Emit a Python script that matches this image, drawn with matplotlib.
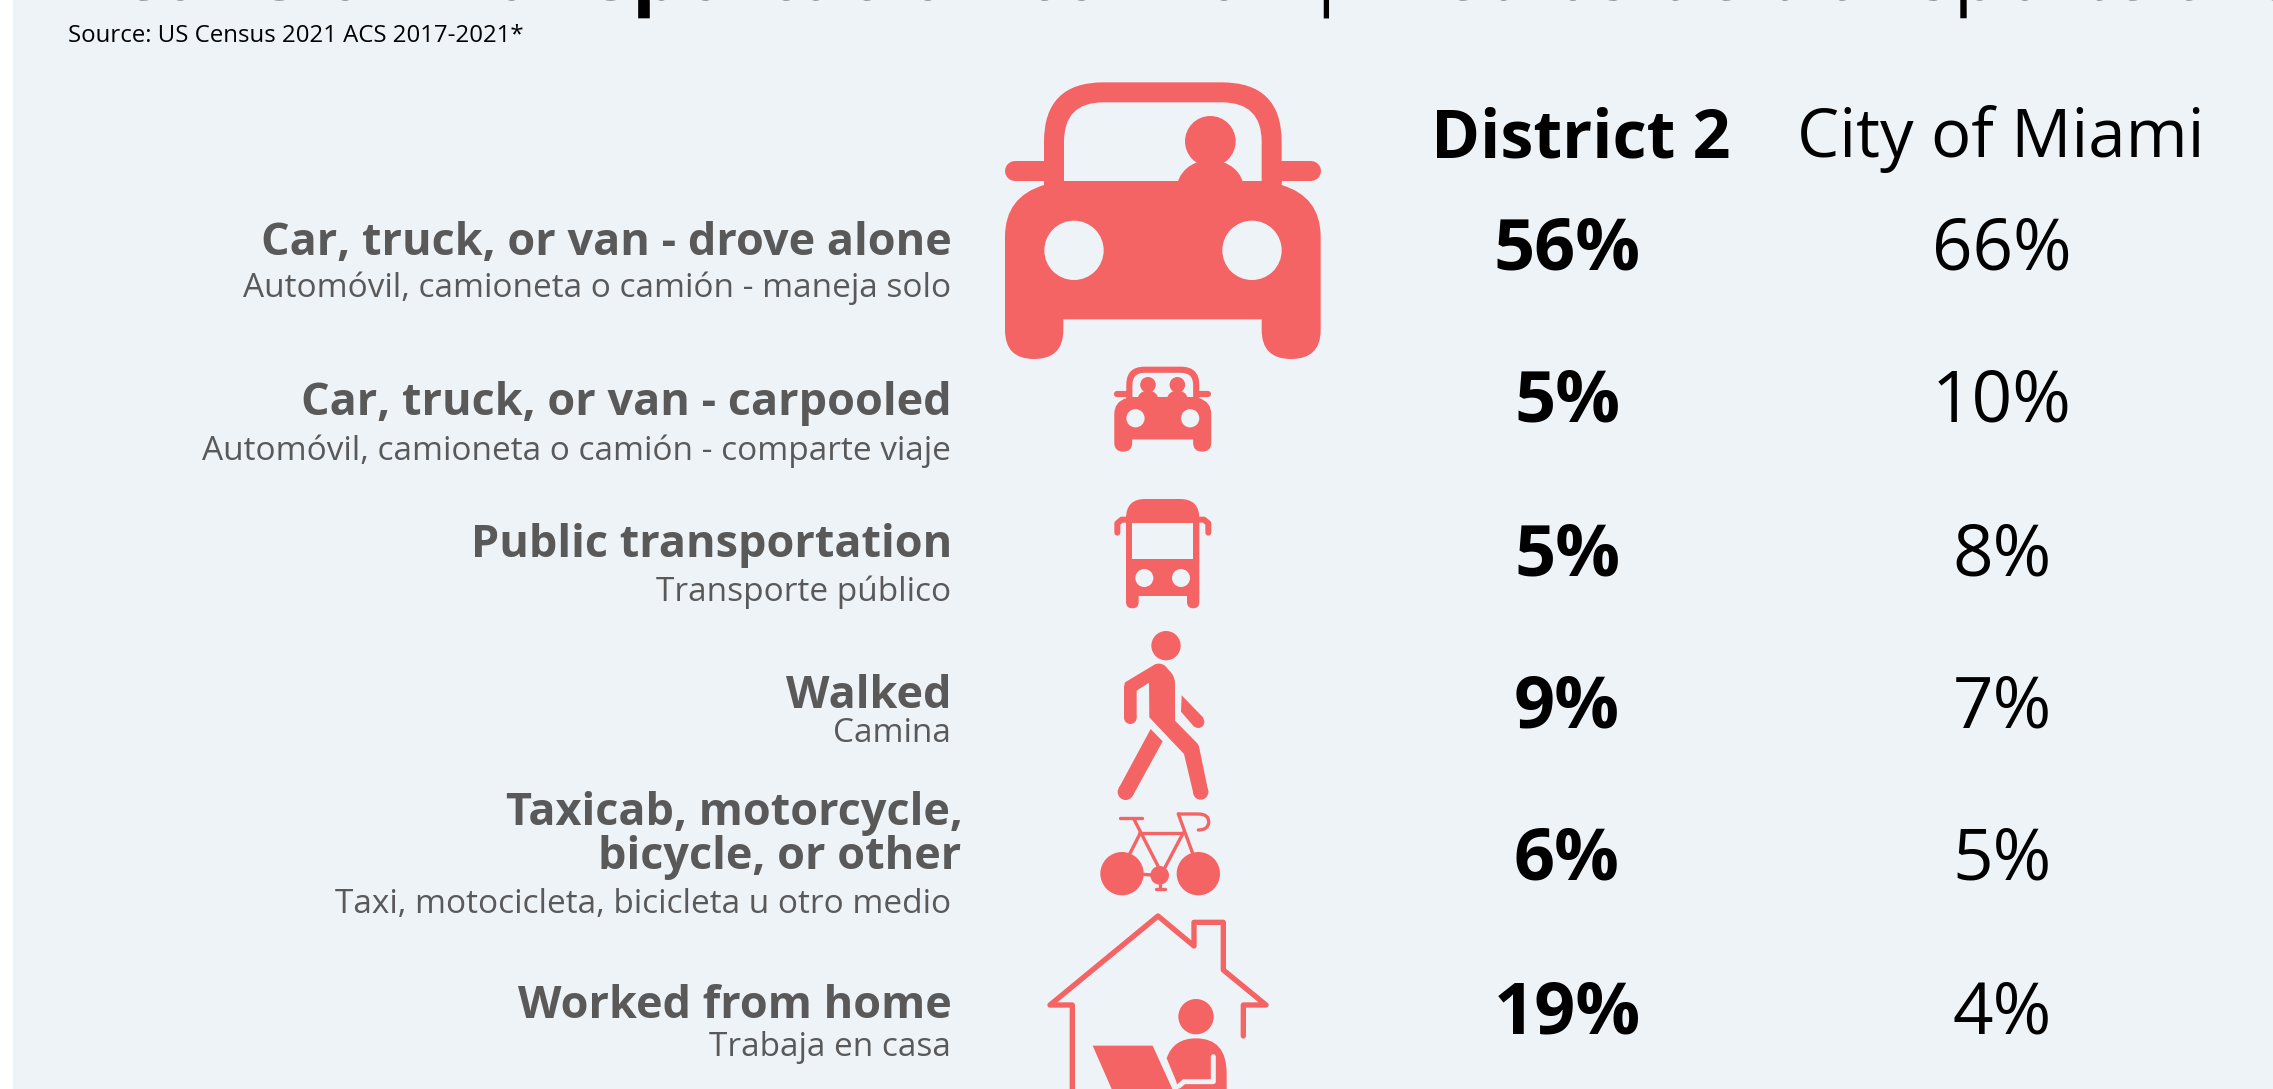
# -*- coding: utf-8 -*-
import matplotlib
matplotlib.use("Agg")
import matplotlib.patheffects as pe
import matplotlib.pyplot as plt
from matplotlib.patches import Circle, Ellipse, PathPatch, Polygon, Rectangle
from matplotlib.path import Path
from matplotlib.transforms import Affine2D

PINK = "#F46464"
PANEL = "#EEF3F8"
GREY = "#595959"

# data
labels_en = ["Car, truck, or van - drove alone", "Car, truck, or van - carpooled",
             "Public transportation", "Walked",
             "Taxicab, motorcycle,\nbicycle, or other", "Worked from home"]
labels_es = ["Automóvil, camioneta o camión - maneja solo",
             "Automóvil, camioneta o camión - comparte viaje",
             "Transporte público", "Camina",
             "Taxi, motocicleta, bicicleta u otro medio", "Trabaja en casa"]
district_2 = [56, 5, 5, 9, 6, 19]
city_of_miami = [66, 10, 8, 7, 5, 4]
column_names = ["District 2", "City of Miami"]
source_note = "Source: US Census 2021 ACS 2017-2021*"
title_en = "Means of Transportation to Work"
title_es = "| Medios de transporte al trabajo"

# layout, in pixels of the image
row_base = [270, 422, 576, 727, 879, 1033]
en_base = [[255], [415], [557], [708], [825, 869], [1018]]
en_right = [[952], [952], [952], [952], [963, 961], [952]]
es_base = [297, 460, 601, 742, 913, 1056]

fig = plt.figure(figsize=(2273 / 100, 1089 / 100), dpi=100, facecolor="white")
ax = fig.add_axes([0, 0, 1, 1])
ax.set_xlim(0, 2273)
ax.set_ylim(1089, 0)
ax.axis("off")
ax.add_patch(Rectangle((13, 0), 2260, 1089, color=PANEL, lw=0))


def px(size):
    return size * 72 / 100


def txt(x, y, s, size, color="black", weight="normal", ha="center"):
    return ax.text(x, y, s, fontsize=px(size), color=color, fontweight=weight, ha=ha,
                   va="baseline", family="Open Sans")


def icon(ox, oy, k):
    return Affine2D().scale(k).translate(ox, oy) + ax.transData


def put(patch, tr):
    patch.set_transform(tr)
    ax.add_patch(patch)


def fill(verts, codes, tr, color=PINK):
    put(PathPatch(Path(verts, codes), fc=color, ec="none", lw=0), tr)


def dot(x, y, r, tr, color=PINK):
    put(Circle((x, y), r, fc=color, ec="none", lw=0), tr)


def stroke(points, w, k, tr, color=PINK):
    put(PathPatch(Path(points), fc="none", ec=color, lw=px(w * k),
                  capstyle="round", joinstyle="round"), tr)


M, L, C3, Z = Path.MOVETO, Path.LINETO, Path.CURVE3, Path.CLOSEPOLY


def car(ox, oy, k, people):
    tr = icon(ox, oy, k)
    # body with wheels
    fill([(192, 363), (192, 375), (75, 410), (75, 530), (75, 810), (75, 897), (162, 897),
          (250, 897), (250, 810), (250, 778), (845, 778), (845, 810), (845, 897), (933, 897),
          (1022, 897), (1022, 810), (1022, 530), (1022, 410), (905, 375), (905, 363), (192, 363)],
         [M, L, C3, C3, L, C3, C3, C3, C3, L, L, L, C3, C3, C3, C3, L, C3, C3, L, Z], tr)
    # roof
    fill([(192, 370), (192, 245), (192, 67), (370, 67), (725, 67), (905, 67), (905, 245), (905, 370),
          (845, 370), (845, 245), (845, 127), (725, 127), (370, 127), (252, 127), (252, 245),
          (252, 370), (192, 370)],
         [M, L, C3, C3, L, C3, C3, L, L, L, C3, C3, L, C3, C3, L, Z], tr)
    # mirrors
    stroke([(105, 333), (200, 333)], 60, k, tr)
    stroke([(895, 333), (992, 333)], 60, k, tr)
    # headlights
    dot(282, 571, 89, tr, PANEL)
    dot(816, 571, 89, tr, PANEL)
    for x in people:
        dot(x, 244, 76, tr)
        put(Ellipse((x, 385), 200, 170, fc=PINK, ec="none", lw=0), tr)


def bus():
    tr = icon(1080, 480, 1 / 3)
    fill([(138, 115), (138, 57), (195, 57), (300, 57), (358, 57), (358, 115), (358, 366), (358, 385),
          (340, 385), (321, 385), (321, 366), (321, 348), (176, 348), (176, 366), (176, 385),
          (157, 385), (138, 385), (138, 366), (138, 115)],
         [M, C3, C3, L, C3, C3, L, C3, C3, C3, C3, L, L, L, C3, C3, C3, C3, Z], tr)
    put(Rectangle((157, 130), 183, 108, fc=PANEL, ec="none", lw=0), tr)
    dot(193, 294, 27, tr, PANEL)
    dot(303, 294, 27, tr, PANEL)
    stroke([(112, 158), (112, 130), (125, 119), (140, 119)], 18, 1 / 3, tr)
    stroke([(385, 158), (385, 130), (372, 119), (358, 119)], 18, 1 / 3, tr)


def walker():
    tr = icon(1080, 480, 1 / 3)
    dot(258, 497, 44, tr)
    fill([(135, 607), (225, 553), (240, 547), (255, 557), (275, 580), (285, 592), (285, 610),
          (285, 722), (350, 788), (355, 793), (357, 800), (385, 935), (340, 940), (312, 822),
          (208, 712), (207, 608), (170, 632), (170, 712), (132, 712), (132, 620), (135, 607)],
         [M, L, C3, C3, L, C3, C3, L, L, C3, C3, L, L, L, L, L, L, L, L, L, Z], tr)
    dot(151, 713, 19, tr)
    dot(362, 936, 23, tr)
    put(Polygon([(212, 747), (248, 784), (158, 948), (116, 925)], fc=PINK, ec="none", lw=0), tr)
    dot(137, 936, 24, tr)
    put(Polygon([(305, 646), (371, 714), (342, 740), (303, 695)], fc=PINK, ec="none", lw=0), tr)
    dot(355, 726, 18, tr)


def bicycle():
    k = 1 / 3
    tr = icon(1030, 790, k)
    dot(276, 251, 65, tr)
    dot(505, 251, 65, tr)
    dot(389, 256, 28, tr)
    for seg in [[(270, 83), (337, 83)], [(312, 88), (385, 230)], [(328, 128), (460, 128)],
                [(460, 128), (405, 232)], [(445, 72), (488, 190)], [(328, 135), (300, 190)],
                [(340, 253), (365, 255)], [(390, 285), (390, 297)], [(377, 298), (405, 298)]]:
        stroke(seg, 10, k, tr)
    put(PathPatch(Path([(445, 72), (505, 72), (538, 72), (536, 98), (534, 120), (505, 120)],
                       [M, L, C3, C3, C3, C3]),
                  fc="none", ec=PINK, lw=px(10 * k), capstyle="round"), tr)


def house():
    k = 1 / 3
    tr = icon(1030, 790, k)
    stroke([(127, 1000), (127, 645), (60, 645), (384, 378), (492, 468), (492, 397), (580, 397),
            (580, 540), (708, 645), (640, 645), (640, 738)], 16, k, tr)
    # laptop, runs off the bottom of the picture
    put(Polygon([(188, 767), (368, 767), (474, 1000), (290, 1000)], fc=PINK, ec="none", lw=0), tr)
    dot(498, 680, 53, tr)
    fill([(410, 805), (430, 745), (498, 745), (590, 745), (590, 850), (590, 1000), (480, 1000),
          (437, 870), (410, 805)],
         [M, C3, C3, C3, C3, L, L, L, Z], tr)
    stroke([(550, 800), (550, 875), (462, 875), (447, 888)], 15, k, tr, PANEL)


# title is cut by the top of the picture, only its descenders show
for t in [txt(44, -0.4, title_en, 78, weight="bold", ha="left"),
          txt(1305, -0.4, title_es, 78, ha="left")]:
    t.set_path_effects([pe.Normal()])
txt(68, 42, source_note, 24, ha="left")

txt(1581, 157, column_names[0], 66.4, weight="bold")
txt(2001, 157, column_names[1], 67)

for i in range(len(labels_en)):
    for line, y, x in zip(labels_en[i].split("\n"), en_base[i], en_right[i]):
        txt(x, y, line, 45, color=GREY, weight="bold", ha="right")
    txt(951, es_base[i], labels_es[i], 33.4, color=GREY, ha="right")
    txt(1567, row_base[i], "%d%%" % district_2[i], 72, weight="bold")
    txt(2002, row_base[i], "%d%%" % city_of_miami[i], 71)

car(980, 60, 1 / 3, [691])
car(1106.6, 359.8, 0.1024, [404, 691])
bus()
walker()
bicycle()
house()

fig.savefig("out.png", dpi=100, facecolor="white")
